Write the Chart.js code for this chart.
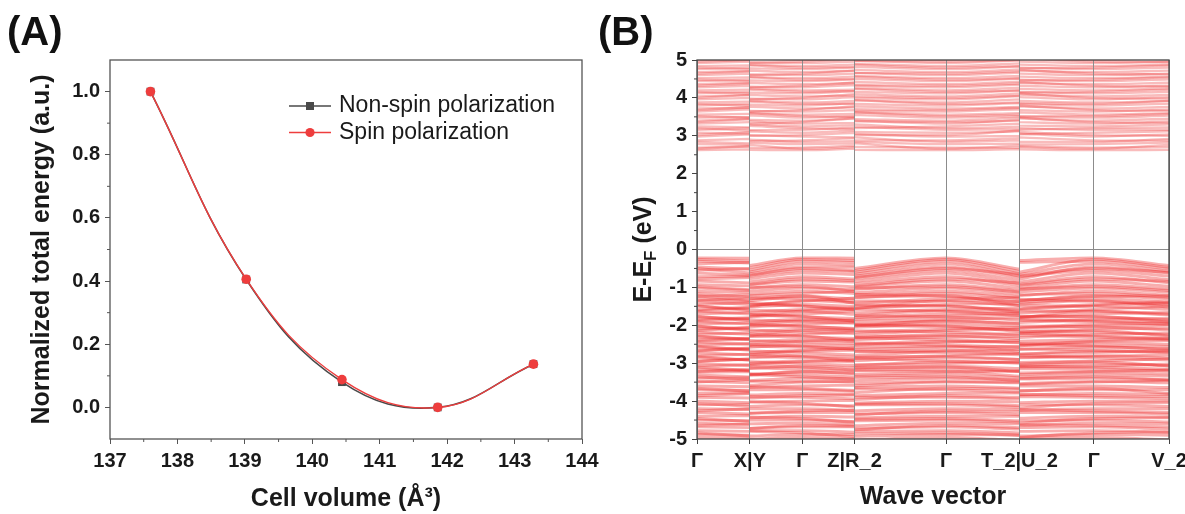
<!DOCTYPE html>
<html>
<head>
<meta charset="utf-8">
<script src="https://cdn.jsdelivr.net/npm/chart.js@4.4.1/dist/chart.umd.min.js"></script>
<style>
  html, body { margin: 0; background: #fff; }
  #wrapA { position: absolute; left: 0; top: 0; width: 625px; height: 514px; }
  #wrapB { position: absolute; left: 590px; top: 0; width: 595px; height: 514px; }
</style>
</head>
<body>
<div id="wrapA"><canvas id="energyChart" width="625" height="514"></canvas></div>
<div id="wrapB"><canvas id="bandChart" width="595" height="514"></canvas></div>
<script>
// (A) normalized total energy vs cell volume
const cellVolume    = [137.60, 139.02, 140.44, 141.86, 143.28];
const energyNonSpin = [1.000, 0.405, 0.080, 0.000, 0.137];
const energySpin    = [1.000, 0.406, 0.088, 0.000, 0.137];
const volumeTicks   = [137, 138, 139, 140, 141, 142, 143, 144];
const energyTicks   = [0.0, 0.2, 0.4, 0.6, 0.8, 1.0];

// (B) band structure, path Γ-X | Y-Γ-Z | R_2-Γ-T_2 | U_2-Γ-V_2
const kLabels = ['Γ', 'X|Y', 'Γ', 'Z|R_2', 'Γ', 'T_2|U_2', 'Γ', 'V_2'];
const kPos    = [0, 0.112, 0.2232, 0.3337, 0.5276, 0.6831, 0.8405, 1];
const bandTicks = [-5, -4, -3, -2, -1, 0, 1, 2, 3, 4, 5];

// one row per band: E at Γ, X, Y, Z, R_2, T_2, U_2, V_2 (eV)
const valenceBands = [
  [-0.22,-0.23,-0.42,-0.23,-0.50,-0.52,-0.29,-0.42],
  [-0.26,-0.30,-0.48,-0.29,-0.55,-0.58,-0.60,-0.47],
  [-0.31,-0.36,-0.54,-0.34,-0.60,-0.64,-0.34,-0.51],
  [-0.38,-0.34,-0.59,-0.41,-0.65,-0.70,-0.66,-0.57],
  [-0.46,-0.52,-0.64,-0.47,-0.70,-0.75,-0.78,-0.62],
  [-0.50,-0.62,-0.68,-0.56,-0.74,-0.66,-0.70,-0.60],
  [-0.55,-0.50,-0.71,-0.58,-0.77,-0.82,-0.72,-0.70],
  [-0.62,-0.68,-0.77,-0.66,-0.84,-0.90,-0.86,-0.80],
  [-0.72,-0.70,-0.85,-0.78,-0.90,-0.96,-0.92,-0.88],
  [-0.78,-0.74,-0.92,-0.82,-0.96,-0.88,-0.94,-0.84],
  [-0.83,-0.88,-0.93,-0.86,-0.98,-1.03,-1.00,-0.97],
  [-0.93,-0.96,-1.02,-0.98,-1.05,-1.10,-1.06,-1.04],
  [-0.98,-1.06,-1.00,-1.10,-1.02,-1.12,-1.04,-1.08],
  [-1.02,-1.08,-1.10,-1.05,-1.14,-1.18,-1.12,-1.13],
  [-1.10,-1.14,-1.18,-1.16,-1.20,-1.25,-1.22,-1.21],
  [-1.16,-1.25,-1.22,-1.10,-1.27,-1.30,-1.19,-1.26],
  [-1.22,-1.34,-1.30,-1.42,-1.26,-1.48,-1.36,-1.30],
  [-1.24,-1.20,-1.35,-1.30,-1.18,-1.38,-1.34,-1.22],
  [-1.30,-1.38,-1.28,-1.36,-1.42,-1.26,-1.40,-1.39],
  [-1.35,-1.28,-1.50,-1.40,-1.56,-1.36,-1.44,-1.52],
  [-1.37,-1.45,-1.47,-1.28,-1.36,-1.48,-1.31,-1.45],
  [-1.45,-1.40,-1.52,-1.50,-1.55,-1.42,-1.56,-1.38],
  [-1.48,-1.62,-1.40,-1.60,-1.46,-1.66,-1.58,-1.42],
  [-1.50,-1.58,-1.44,-1.57,-1.49,-1.60,-1.48,-1.58],
  [-1.58,-1.52,-1.66,-1.54,-1.67,-1.55,-1.68,-1.50],
  [-1.62,-1.54,-1.76,-1.58,-1.74,-1.64,-1.80,-1.70],
  [-1.63,-1.70,-1.60,-1.71,-1.58,-1.74,-1.62,-1.73],
  [-1.70,-1.66,-1.78,-1.64,-1.80,-1.68,-1.78,-1.66],
  [-1.76,-1.88,-1.70,-1.90,-1.84,-1.72,-1.78,-1.92],
  [-1.78,-1.84,-1.72,-1.82,-1.74,-1.86,-1.76,-1.85],
  [-1.84,-1.80,-1.92,-1.88,-1.90,-1.80,-1.93,-1.82],
  [-1.88,-1.82,-1.98,-1.86,-2.02,-1.96,-1.84,-1.90],
  [-1.90,-1.97,-1.86,-1.95,-1.98,-1.94,-1.87,-1.98],
  [-1.97,-1.93,-2.04,-1.92,-2.05,-2.02,-2.06,-1.94],
  [-2.02,-2.14,-1.96,-2.10,-1.98,-2.16,-2.08,-2.00],
  [-2.04,-2.10,-2.00,-2.08,-2.00,-2.12,-2.02,-2.12],
  [-2.10,-2.06,-2.17,-2.14,-2.18,-2.06,-2.18,-2.08],
  [-2.14,-2.06,-2.26,-2.12,-2.24,-2.10,-2.22,-2.28],
  [-2.18,-2.24,-2.12,-2.22,-2.14,-2.26,-2.15,-2.25],
  [-2.24,-2.20,-2.30,-2.18,-2.32,-2.22,-2.32,-2.20],
  [-2.28,-2.38,-2.22,-2.40,-2.30,-2.36,-2.20,-2.34],
  [-2.31,-2.36,-2.28,-2.35,-2.38,-2.30,-2.26,-2.38],
  [-2.38,-2.34,-2.44,-2.42,-2.33,-2.45,-2.42,-2.34],
  [-2.42,-2.36,-2.52,-2.38,-2.50,-2.46,-2.54,-2.40],
  [-2.45,-2.50,-2.40,-2.48,-2.52,-2.40,-2.50,-2.50],
  [-2.52,-2.48,-2.58,-2.54,-2.46,-2.58,-2.48,-2.56],
  [-2.55,-2.66,-2.50,-2.64,-2.58,-2.68,-2.52,-2.64],
  [-2.58,-2.64,-2.55,-2.62,-2.64,-2.56,-2.64,-2.62],
  [-2.66,-2.62,-2.72,-2.60,-2.70,-2.74,-2.62,-2.70],
  [-2.68,-2.60,-2.78,-2.66,-2.80,-2.64,-2.76,-2.72],
  [-2.72,-2.78,-2.68,-2.78,-2.68,-2.78,-2.76,-2.67],
  [-2.80,-2.76,-2.86,-2.84,-2.86,-2.74,-2.84,-2.86],
  [-2.82,-2.92,-2.76,-2.94,-2.84,-2.90,-2.86,-2.78],
  [-2.86,-2.92,-2.82,-2.90,-2.93,-2.90,-2.80,-2.92],
  [-2.94,-2.90,-3.00,-2.96,-2.88,-3.00,-2.98,-2.88],
  [-2.96,-2.88,-3.04,-2.92,-3.06,-2.98,-3.02,-3.08],
  [-3.01,-3.06,-2.96,-3.06,-3.04,-2.96,-3.06,-3.06],
  [-3.08,-3.04,-3.14,-3.12,-3.12,-3.14,-3.10,-3.02],
  [-3.10,-3.20,-3.06,-3.18,-3.12,-3.22,-3.08,-3.16],
  [-3.16,-3.20,-3.12,-3.20,-3.18,-3.22,-3.14,-3.20],
  [-3.22,-3.16,-3.32,-3.28,-3.20,-3.34,-3.26,-3.18],
  [-3.24,-3.22,-3.30,-3.26,-3.30,-3.20,-3.30,-3.28],
  [-3.31,-3.36,-3.28,-3.36,-3.34,-3.38,-3.36,-3.34],
  [-3.36,-3.44,-3.30,-3.42,-3.38,-3.46,-3.40,-3.44],
  [-3.40,-3.38,-3.46,-3.42,-3.46,-3.44,-3.42,-3.44],
  [-3.48,-3.52,-3.48,-3.50,-3.54,-3.50,-3.54,-3.52],
  [-3.50,-3.44,-3.58,-3.48,-3.60,-3.52,-3.56,-3.46],
  [-3.60,-3.62,-3.64,-3.58,-3.64,-3.66,-3.60,-3.64],
  [-3.66,-3.74,-3.62,-3.72,-3.78,-3.68,-3.74,-3.80],
  [-3.70,-3.72,-3.70,-3.74,-3.68,-3.76,-3.72,-3.70],
  [-3.80,-3.78,-3.84,-3.82,-3.86,-3.78,-3.84,-3.82],
  [-3.86,-3.80,-3.92,-3.84,-3.96,-3.90,-3.82,-3.88],
  [-3.90,-3.92,-3.88,-3.94,-3.90,-3.94,-3.88,-3.94],
  [-4.00,-4.04,-4.02,-3.98,-4.05,-4.02,-4.04,-4.00],
  [-4.06,-4.14,-4.02,-4.16,-4.08,-4.12,-4.18,-4.04],
  [-4.10,-4.08,-4.14,-4.12,-4.10,-4.16,-4.10,-4.14],
  [-4.20,-4.22,-4.20,-4.24,-4.26,-4.22,-4.24,-4.20],
  [-4.26,-4.20,-4.32,-4.24,-4.36,-4.28,-4.22,-4.30],
  [-4.30,-4.34,-4.32,-4.30,-4.34,-4.36,-4.30,-4.34],
  [-4.40,-4.38,-4.44,-4.42,-4.44,-4.40,-4.45,-4.42],
  [-4.46,-4.54,-4.42,-4.56,-4.48,-4.52,-4.58,-4.44],
  [-4.50,-4.52,-4.50,-4.54,-4.52,-4.56,-4.52,-4.55],
  [-4.58,-4.62,-4.60,-4.62,-4.65,-4.60,-4.64,-4.60],
  [-4.64,-4.60,-4.72,-4.66,-4.76,-4.70,-4.62,-4.68],
  [-4.68,-4.70,-4.72,-4.68,-4.72,-4.74,-4.70,-4.74],
  [-4.78,-4.80,-4.78,-4.82,-4.80,-4.84,-4.80,-4.82],
  [-4.84,-4.92,-4.80,-4.94,-4.86,-4.90,-4.96,-4.82],
  [-4.88,-4.90,-4.92,-4.88,-4.93,-4.90,-4.92,-4.90],
  [-4.96,-4.98,-5.00,-4.98,-5.02,-5.04,-4.98,-5.02]
];
const conductionBands = [
  [2.62,2.64,2.63,2.66,2.63,2.65,2.64,2.63],
  [2.66,2.72,2.76,2.70,2.80,2.74,2.70,2.76],
  [2.69,2.72,2.68,2.74,2.71,2.68,2.73,2.70],
  [2.78,2.76,2.82,2.80,2.84,2.79,2.77,2.82],
  [2.84,2.80,2.90,2.86,2.96,2.88,2.84,2.92],
  [2.88,2.92,2.86,2.94,2.88,2.94,2.96,2.87],
  [2.98,3.04,3.02,2.96,3.05,3.00,3.06,3.04],
  [3.02,3.10,3.00,3.08,3.02,3.14,3.10,3.00],
  [3.08,3.06,3.12,3.14,3.10,3.12,3.04,3.12],
  [3.16,3.20,3.15,3.22,3.24,3.18,3.20,3.16],
  [3.20,3.14,3.26,3.18,3.30,3.24,3.16,3.22],
  [3.25,3.22,3.30,3.28,3.20,3.32,3.27,3.30],
  [3.32,3.36,3.38,3.34,3.40,3.42,3.36,3.38],
  [3.36,3.44,3.32,3.46,3.38,3.40,3.48,3.34],
  [3.40,3.45,3.42,3.47,3.44,3.48,3.46,3.45],
  [3.48,3.50,3.54,3.52,3.55,3.52,3.50,3.53],
  [3.52,3.48,3.60,3.50,3.62,3.56,3.52,3.58],
  [3.56,3.58,3.60,3.58,3.62,3.60,3.62,3.60],
  [3.64,3.70,3.66,3.68,3.66,3.70,3.68,3.69],
  [3.68,3.76,3.64,3.78,3.70,3.74,3.80,3.66],
  [3.72,3.74,3.77,3.75,3.78,3.76,3.78,3.76],
  [3.80,3.84,3.82,3.86,3.84,3.86,3.84,3.85],
  [3.84,3.80,3.90,3.84,3.94,3.88,3.86,3.92],
  [3.88,3.90,3.93,3.92,3.94,3.96,3.92,3.92],
  [3.96,4.00,3.98,4.02,4.00,4.05,4.02,4.02],
  [4.00,4.08,3.96,4.10,4.04,4.06,4.12,3.98],
  [4.04,4.08,4.08,4.06,4.10,4.12,4.09,4.08],
  [4.12,4.16,4.14,4.18,4.16,4.20,4.16,4.16],
  [4.16,4.12,4.22,4.18,4.24,4.20,4.14,4.22],
  [4.20,4.22,4.25,4.22,4.26,4.27,4.24,4.25],
  [4.28,4.32,4.30,4.34,4.32,4.35,4.32,4.32],
  [4.32,4.38,4.28,4.40,4.34,4.38,4.42,4.30],
  [4.36,4.40,4.40,4.40,4.42,4.43,4.40,4.40],
  [4.44,4.48,4.46,4.49,4.50,4.51,4.48,4.49],
  [4.48,4.44,4.54,4.50,4.56,4.52,4.46,4.54],
  [4.52,4.54,4.56,4.56,4.58,4.58,4.56,4.56],
  [4.60,4.64,4.62,4.64,4.66,4.67,4.64,4.64],
  [4.64,4.70,4.60,4.72,4.66,4.70,4.74,4.62],
  [4.68,4.71,4.72,4.72,4.74,4.75,4.72,4.72],
  [4.76,4.80,4.78,4.80,4.82,4.83,4.80,4.80],
  [4.80,4.76,4.86,4.82,4.88,4.84,4.78,4.86],
  [4.84,4.86,4.88,4.88,4.90,4.91,4.88,4.88],
  [4.92,4.96,4.94,4.96,4.98,4.99,4.96,4.96],
  [4.96,5.00,4.92,5.02,4.98,5.00,5.04,4.94],
  [5.00,5.02,5.04,5.04,5.06,5.06,5.04,5.04]
];

const FONT = '"Liberation Sans", Arial, sans-serif';
const INK = '#1a1a1a', AXIS = '#555', GREY_LINE = '#8c8c8c';
const RED = '#ee3d3d', DARK = '#4a4a4a';
const BAND_VB = 'rgba(238,52,52,0.40)';
const BAND_CB = 'rgba(238,60,60,0.34)';

// frame all round + short minor ticks between the major ones
const frameAndMinor = {
  id: 'frameAndMinor',
  afterDraw(chart, args, o) {
    const { ctx, chartArea: a, scales } = chart;
    ctx.save();
    ctx.strokeStyle = o.color;
    ctx.lineWidth = 1.3;
    ctx.strokeRect(a.left, a.top, a.right - a.left, a.bottom - a.top);
    ctx.lineWidth = 1;
    (o.minorX || []).forEach(v => {
      const px = scales.x.getPixelForValue(v);
      ctx.beginPath(); ctx.moveTo(px, a.bottom); ctx.lineTo(px, a.bottom + 3); ctx.stroke();
    });
    (o.minorY || []).forEach(v => {
      const py = scales.y.getPixelForValue(v);
      ctx.beginPath(); ctx.moveTo(a.left, py); ctx.lineTo(a.left - 3, py); ctx.stroke();
    });
    ctx.restore();
  }
};

// legend inside the plot area of (A)
const insideLegend = {
  id: 'insideLegend',
  afterDraw(chart, args, o) {
    const ctx = chart.ctx;
    ctx.save();
    ctx.font = '23px ' + FONT;
    ctx.textBaseline = 'middle';
    chart.data.datasets.forEach((ds, i) => {
      const y = o.y + i * o.gap;
      ctx.strokeStyle = ds.borderColor;
      ctx.lineWidth = ds.borderWidth;
      ctx.beginPath(); ctx.moveTo(o.x, y); ctx.lineTo(o.x + o.len, y); ctx.stroke();
      ctx.fillStyle = ds.pointBackgroundColor;
      const cx = o.x + o.len / 2;
      if (ds.pointStyle === 'rect') ctx.fillRect(cx - 4, y - 4, 8, 8);
      else { ctx.beginPath(); ctx.arc(cx, y, 4.6, 0, Math.PI * 2); ctx.fill(); }
      ctx.fillStyle = INK;
      ctx.fillText(ds.label, o.x + o.len + 8, y);
    });
    ctx.restore();
  }
};

// E-E_F (eV) with a real subscript
const bandYTitle = {
  id: 'bandYTitle',
  afterDraw(chart, args, o) {
    const { ctx, chartArea: a } = chart;
    const big = 'bold 25px ' + FONT, small = 'bold 17px ' + FONT;
    ctx.save();
    ctx.translate(o.x, (a.top + a.bottom) / 2);
    ctx.rotate(-Math.PI / 2);
    ctx.fillStyle = INK;
    ctx.textBaseline = 'middle';
    ctx.font = big;
    const w1 = ctx.measureText('E-E').width, w3 = ctx.measureText(' (eV)').width;
    ctx.font = small;
    const w2 = ctx.measureText('F').width;
    let cx = -(w1 + w2 + w3) / 2;
    ctx.font = big;  ctx.fillText('E-E', cx, 0);   cx += w1;
    ctx.font = small; ctx.fillText('F', cx, 7);    cx += w2;
    ctx.font = big;  ctx.fillText(' (eV)', cx, 0);
    ctx.restore();
  }
};

const midpoints = arr => arr.slice(1).map((v, i) => (v + arr[i]) / 2);
const tickFont = { family: FONT, size: 20, weight: 'bold' };
const titleFont = { family: FONT, size: 25, weight: 'bold' };
const panelFont = { family: FONT, size: 40, weight: 'bold' };

// ---------- (A) ----------
new Chart(document.getElementById('energyChart'), {
  type: 'line',
  data: {
    datasets: [
      {
        label: 'Non-spin polarization',
        data: cellVolume.map((v, i) => ({ x: v, y: energyNonSpin[i] })),
        borderColor: DARK, backgroundColor: DARK, pointBackgroundColor: DARK,
        borderWidth: 1.6, pointStyle: 'rect', pointRadius: 5.5, pointBorderWidth: 0,
        tension: 0.4, order: 1
      },
      {
        label: 'Spin polarization',
        data: cellVolume.map((v, i) => ({ x: v, y: energySpin[i] })),
        borderColor: RED, backgroundColor: RED, pointBackgroundColor: RED,
        borderWidth: 1.4, pointStyle: 'circle', pointRadius: 4.8, pointBorderWidth: 0,
        tension: 0.4, order: 0
      }
    ]
  },
  options: {
    responsive: false, animation: false, events: [],
    layout: { padding: { left: 7, right: 43, top: 0, bottom: 0 } },
    plugins: {
      legend: { display: false },
      tooltip: { enabled: false },
      title: {
        display: true, text: '(A)', align: 'start', color: '#111',
        font: panelFont, padding: { top: 9.5, bottom: 2.5 }
      },
      insideLegend: { x: 289, y: 106, gap: 26.5, len: 42 },
      frameAndMinor: { color: AXIS, minorX: midpoints(volumeTicks), minorY: midpoints(energyTicks) }
    },
    scales: {
      x: {
        type: 'linear', min: 137, max: 144,
        afterBuildTicks: s => { s.ticks = volumeTicks.map(v => ({ value: v })); },
        afterFit: s => { s.height = 75; s.paddingLeft = 0; s.paddingRight = 0; },
        border: { display: false },
        grid: { drawOnChartArea: false, tickLength: 5, tickColor: AXIS, tickWidth: 1 },
        ticks: { color: INK, padding: 5, maxRotation: 0, autoSkip: false, font: tickFont },
        title: { display: true, text: 'Cell volume (Å³)', color: INK, font: titleFont,
                 padding: { top: 0, bottom: 0 } }
      },
      y: {
        min: -0.1, max: 1.1,
        afterBuildTicks: s => { s.ticks = energyTicks.map(v => ({ value: v })); },
        afterFit: s => { s.width = 103; s.paddingTop = 0; s.paddingBottom = 0; },
        border: { display: false },
        grid: { drawOnChartArea: false, tickLength: 5, tickColor: AXIS, tickWidth: 1 },
        ticks: { color: INK, padding: 5, callback: v => Number(v).toFixed(1), font: tickFont },
        title: { display: true, text: 'Normalized total energy (a.u.)', color: INK, font: titleFont,
                 padding: { top: 20, bottom: 0 } }
      }
    }
  },
  plugins: [frameAndMinor, insideLegend]
});

// ---------- (B) ----------
// band values in path order; null marks the breaks X|Y, Z|R_2, T_2|U_2
const pathBand = [0, 1, null, 2, 0, 3, null, 4, 0, 5, null, 6, 0, 7];
const pathK    = [0, 1, 1, 1, 2, 3, 3, 3, 4, 5, 5, 5, 6, 7];
const toPath = band => pathBand.map((b, i) => ({ x: kPos[pathK[i]], y: b === null ? null : band[b] }));

const bandSet = (band, color, width) => ({
  data: toPath(band),
  borderColor: color, borderWidth: width,
  pointRadius: 0, cubicInterpolationMode: 'monotone', spanGaps: false
});
const bandSets = valenceBands.map(b => bandSet(b, BAND_VB, 2.9))
  .concat(conductionBands.map(b => bandSet(b, BAND_CB, 2.3)));

new Chart(document.getElementById('bandChart'), {
  type: 'line',
  data: { datasets: bandSets },
  options: {
    responsive: false, animation: false, events: [],
    layout: { padding: { left: 8, right: 16, top: 0, bottom: 0 } },
    plugins: {
      legend: { display: false },
      tooltip: { enabled: false },
      title: {
        display: true, text: '(B)', align: 'start', color: '#111',
        font: panelFont, padding: { top: 9.5, bottom: 2.5 }
      },
      bandYTitle: { x: 54 },
      frameAndMinor: { color: '#444', minorY: midpoints(bandTicks) }
    },
    scales: {
      x: {
        type: 'linear', min: 0, max: 1,
        afterBuildTicks: s => { s.ticks = kPos.map(v => ({ value: v })); },
        afterFit: s => { s.height = 75; s.paddingLeft = 0; s.paddingRight = 0; },
        border: { display: false },
        grid: { color: GREY_LINE, lineWidth: 1, tickLength: 5, tickColor: '#444', z: 1 },
        ticks: { color: INK, padding: 5, maxRotation: 0, autoSkip: false,
                 callback: (v, i) => kLabels[i], font: tickFont },
        title: { display: true, text: 'Wave vector', color: INK, font: titleFont,
                 padding: { top: 0, bottom: 2 } }
      },
      y: {
        min: -5, max: 5,
        afterBuildTicks: s => { s.ticks = bandTicks.map(v => ({ value: v })); },
        afterFit: s => { s.width = 99; s.paddingTop = 0; s.paddingBottom = 0; },
        border: { display: false },
        grid: {
          color: c => (c.tick && c.tick.value === 0 ? GREY_LINE : 'rgba(0,0,0,0)'),
          lineWidth: 1, tickLength: 5, tickColor: '#444', z: 1
        },
        ticks: { color: INK, padding: 5, font: tickFont }
      }
    }
  },
  plugins: [frameAndMinor, bandYTitle]
});
</script>
</body>
</html>
